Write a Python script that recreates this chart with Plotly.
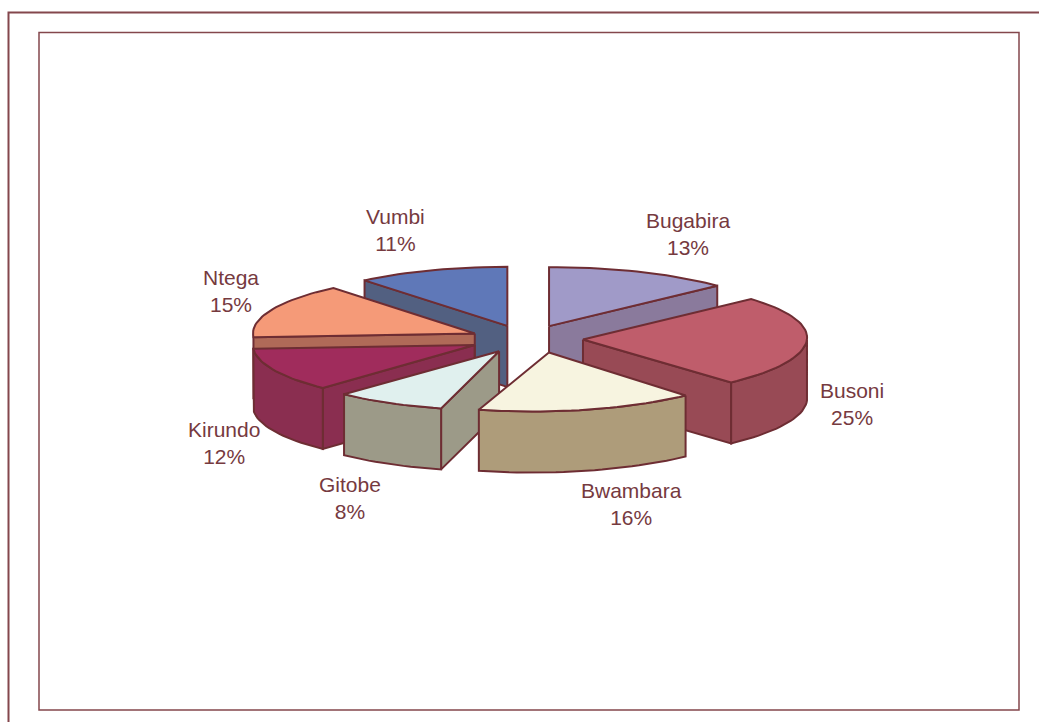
import math
import plotly.graph_objects as go

# Data
categories = ["Bugabira", "Busoni", "Bwambara", "Gitobe", "Kirundo", "Ntega", "Vumbi"]
percent = [13, 25, 16, 8, 12, 15, 11]

# Style
top_colors = ["#A09AC8", "#BF5D6B", "#F7F4E0", "#E0F0EE", "#A02C5C", "#F59A78", "#5F78B8"]
side_colors = ["#8A7A9C", "#984A55", "#AE9C7A", "#9C9A88", "#8A2E50", "#B06A58", "#526081"]
INK = "#6E2D33"
TEXT = "#763A3F"
FRAME = "#84474C"

# Projection of the exploded, tilted pie (pixels)
CX, CY = 528, 339
RX, RY = 224, 59
DEPTH = 61
explode_x = [53, 55, 84, 60, 59, 58, 61]
EXPLODE_Y = 14
rim_shear = [0, -0.12, -0.28, -0.04, 0, 0, 0]      # perspective skew of the slices
rx_scale = [1.03, 1, 0.97, 1, 0.99, 0.99, 1]       # perspective width of the slices
draw_order = [0, 6, 5, 1, 4, 3, 2]
label_pos = [(688, 234), (852, 404), (631, 504), (350, 498), (224, 443), (231, 291), (395, 230)]

total = sum(percent)
bounds = [0]
for p in percent:
    bounds.append(bounds[-1] + 360 * p / total)


def rim_point(ax, ay, deg, shear, scale):
    t = math.radians(deg)
    dy = -RY * math.cos(t)
    return ax + RX * scale * math.sin(t) + shear * dy, ay + dy


def arc(ax, ay, a0, a1, shear, scale):
    n = max(2, int(abs(a1 - a0) / 2) + 1)
    return [rim_point(ax, ay, a0 + (a1 - a0) * k / (n - 1), shear, scale) for k in range(n)]


fig = go.Figure()


def poly(points, fill):
    xs = [p[0] for p in points] + [points[0][0]]
    ys = [p[1] for p in points] + [points[0][1]]
    fig.add_trace(go.Scatter(x=xs, y=ys, mode="lines", fill="toself", fillcolor=fill,
                             line=dict(color=INK, width=2), hoverinfo="skip", showlegend=False))


for i in draw_order:
    a0, a1 = bounds[i], bounds[i + 1]
    mid = math.radians((a0 + a1) / 2)
    ax = CX + explode_x[i] * math.sin(mid)
    ay = CY - EXPLODE_Y * math.cos(mid)
    s, k = rim_shear[i], rx_scale[i]
    # cut faces that look toward the viewer
    faces = []
    if 180 < a0 < 360:
        faces.append(a0)
    if 0 < a1 < 180:
        faces.append(a1)
    for a in faces:
        p = rim_point(ax, ay, a, s, k)
        poly([(ax, ay), p, (p[0], p[1] + DEPTH), (ax, ay + DEPTH)], side_colors[i])
    # outer wall: the part facing the viewer
    lo, hi = max(a0, 90), min(a1, 270)
    if hi - lo > 5:
        top_edge = arc(ax, ay, lo, hi, s, k)
        poly(top_edge + [(x, y + DEPTH) for x, y in reversed(top_edge)], side_colors[i])
    # top face
    poly([(ax, ay)] + arc(ax, ay, a0, a1, s, k), top_colors[i])

for name, p, (lx, ly) in zip(categories, percent, label_pos):
    fig.add_annotation(x=lx, y=ly, text=f"{name}<br>{p}%", showarrow=False,
                       xref="x", yref="y", align="center",
                       font=dict(family="Liberation Sans, Arial, sans-serif", size=21, color=TEXT))

fig.update_layout(
    width=1039, height=722, autosize=False,
    margin=dict(l=0, r=0, t=0, b=0),
    paper_bgcolor="white", plot_bgcolor="white",
    xaxis=dict(range=[0, 1039], visible=False, fixedrange=True),
    yaxis=dict(range=[722, 0], visible=False, fixedrange=True),
    shapes=[
        dict(type="rect", xref="x", yref="y", x0=8.5, y0=12.5, x1=1045, y1=730,
             line=dict(color=FRAME, width=2), layer="below"),
        dict(type="rect", xref="x", yref="y", x0=39, y0=32.5, x1=1019, y1=710,
             line=dict(color=FRAME, width=1.5), layer="below"),
    ],
)

fig.write_html("out.html", config={"displayModeBar": False},
               post_script="document.body.style.margin='0';document.body.style.overflow='hidden';")
